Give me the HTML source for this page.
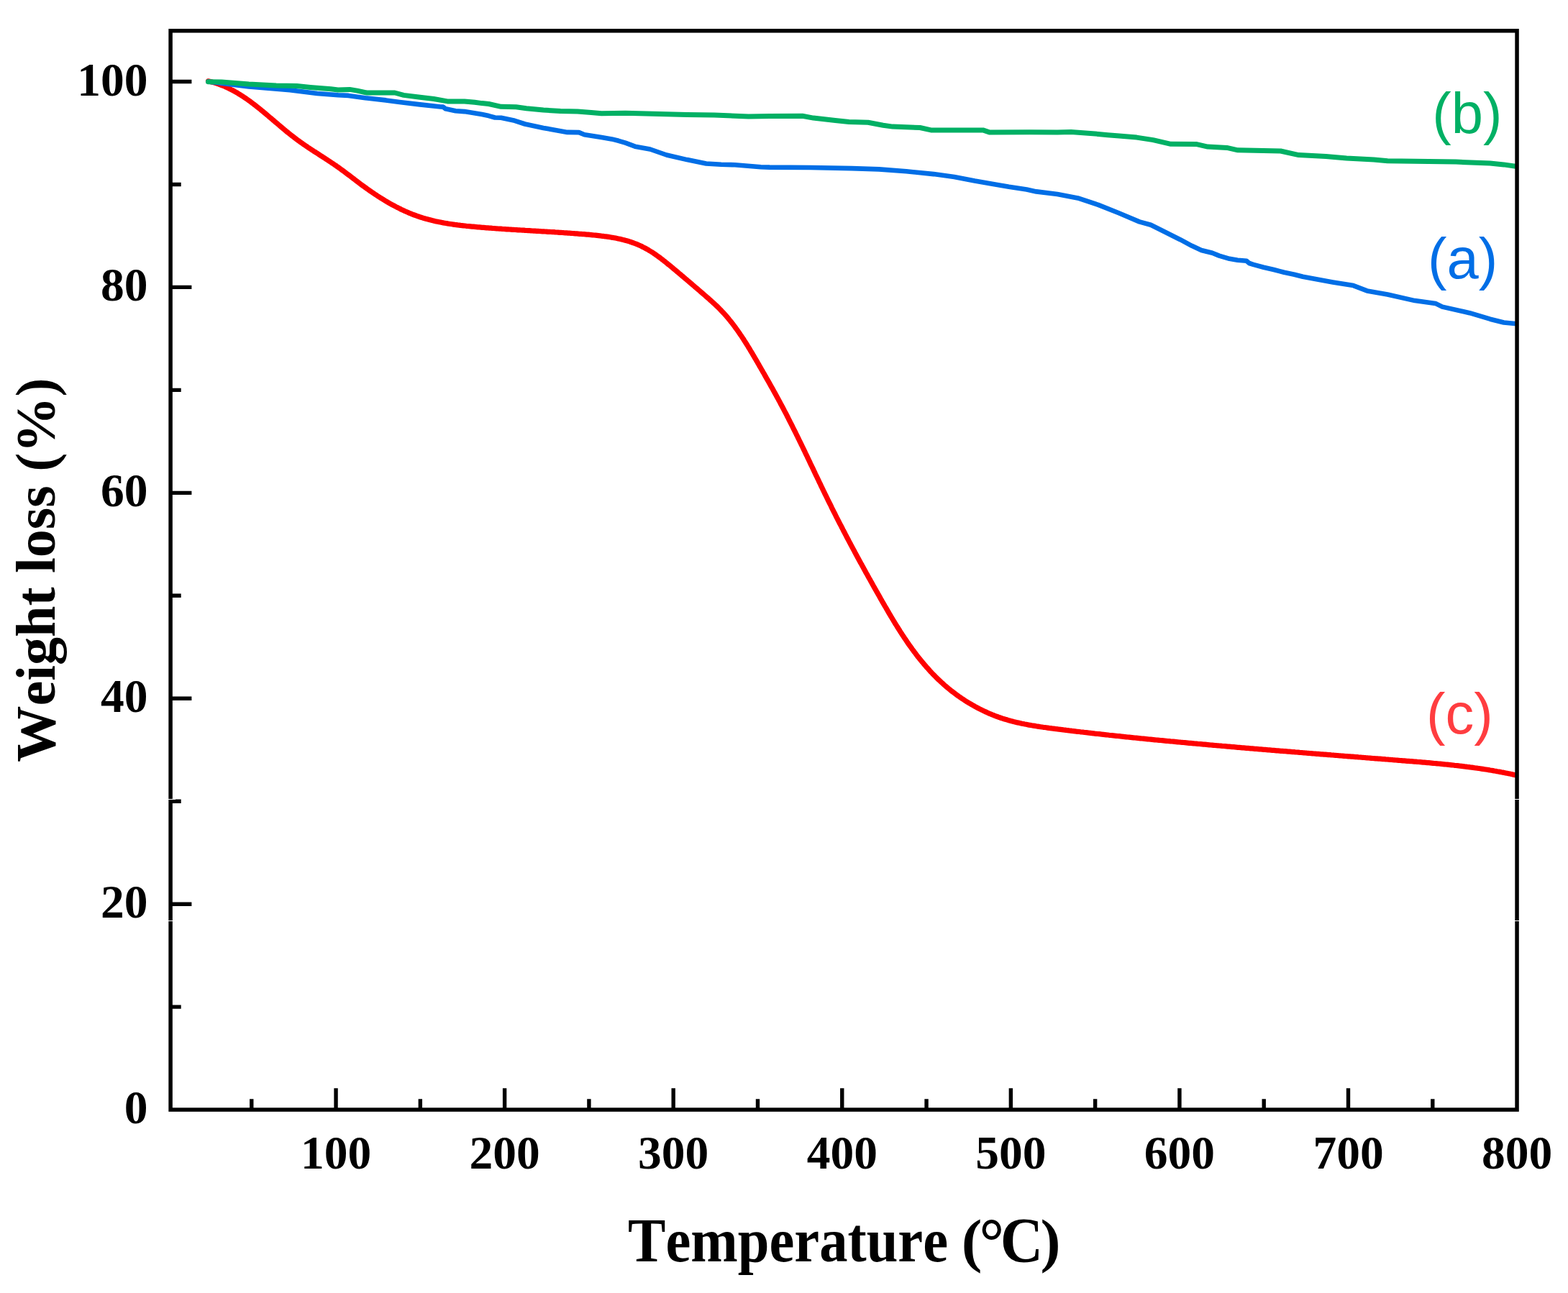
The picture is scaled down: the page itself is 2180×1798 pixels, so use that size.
<!DOCTYPE html>
<html><head><meta charset="utf-8"><title>TGA curves</title>
<style>html,body{margin:0;padding:0;background:#fff;width:2180px;height:1798px;overflow:hidden;}svg{display:block;}text{font-kerning:none;}
.tk{font-family:"Liberation Serif","Times New Roman",serif;font-weight:bold;font-size:65.5px;fill:#000;}
.ttl{font-family:"Liberation Serif","Times New Roman",serif;font-weight:bold;fill:#000;}
.lb{font-family:"Liberation Sans",Arial,sans-serif;font-size:79.5px;}
</style></head><body>
<svg width="2180" height="1798" viewBox="0 0 2180 1798">
<rect x="0" y="0" width="2180" height="1798" fill="#fff"/>
<defs><clipPath id="pc"><rect x="0" y="0" width="2109" height="1798"/></clipPath></defs>
<g fill="none" stroke-linejoin="round" stroke-linecap="round" clip-path="url(#pc)">
<path d="M289.5 112.8 L291.5 113.2 L293.5 113.7 L295.4 114.3 L297.4 114.8 L299.3 115.4 L301.3 116.0 L303.2 116.7 L305.1 117.4 L306.9 118.1 L308.8 118.8 L310.6 119.5 L312.5 120.3 L314.3 121.1 L316.1 122.0 L317.9 122.8 L319.7 123.7 L321.4 124.6 L323.2 125.5 L324.9 126.4 L326.6 127.4 L328.4 128.4 L330.1 129.3 L331.8 130.4 L333.4 131.4 L335.1 132.4 L336.8 133.5 L338.4 134.6 L340.1 135.7 L341.7 136.8 L343.3 137.9 L345.0 139.1 L346.6 140.2 L348.2 141.4 L349.8 142.6 L351.4 143.8 L352.9 145.0 L354.5 146.2 L356.1 147.4 L357.7 148.7 L359.2 149.9 L360.8 151.1 L362.3 152.4 L363.9 153.7 L365.4 154.9 L367.0 156.2 L368.5 157.5 L370.0 158.8 L371.6 160.1 L373.1 161.4 L374.6 162.7 L376.2 164.0 L377.7 165.3 L379.2 166.6 L380.8 167.9 L382.3 169.2 L383.8 170.5 L385.4 171.8 L386.9 173.1 L388.4 174.4 L390.0 175.7 L391.5 177.0 L393.0 178.3 L394.6 179.6 L396.1 180.9 L397.7 182.2 L399.2 183.5 L400.8 184.7 L402.4 186.0 L403.9 187.2 L405.5 188.5 L407.1 189.7 L408.7 190.9 L410.3 192.2 L411.9 193.4 L413.5 194.6 L415.1 195.7 L416.7 196.9 L418.3 198.1 L420.0 199.2 L421.6 200.4 L423.3 201.5 L424.9 202.6 L426.6 203.8 L428.2 204.9 L429.9 206.0 L431.5 207.1 L433.2 208.2 L434.9 209.3 L436.6 210.4 L438.2 211.4 L439.9 212.5 L441.6 213.6 L443.3 214.7 L444.9 215.8 L446.6 216.9 L448.3 217.9 L450.0 219.0 L451.6 220.1 L453.3 221.2 L455.0 222.3 L456.7 223.4 L458.3 224.5 L460.0 225.6 L461.6 226.7 L463.3 227.8 L464.9 228.9 L466.6 230.0 L468.2 231.2 L469.8 232.3 L471.5 233.5 L473.1 234.6 L474.7 235.8 L476.3 237.0 L477.9 238.2 L479.5 239.4 L481.1 240.6 L482.7 241.8 L484.3 243.0 L485.9 244.2 L487.5 245.4 L489.1 246.6 L490.7 247.8 L492.3 249.0 L493.8 250.2 L495.4 251.5 L497.0 252.7 L498.6 253.9 L500.2 255.1 L501.8 256.3 L503.4 257.5 L505.1 258.7 L506.7 259.8 L508.3 261.0 L509.9 262.2 L511.6 263.4 L513.2 264.5 L514.9 265.7 L516.5 266.8 L518.2 267.9 L519.8 269.1 L521.5 270.2 L523.2 271.3 L524.8 272.4 L526.5 273.5 L528.2 274.6 L529.9 275.6 L531.6 276.7 L533.3 277.7 L535.0 278.8 L536.8 279.8 L538.5 280.8 L540.2 281.8 L541.9 282.8 L543.7 283.8 L545.4 284.8 L547.2 285.7 L549.0 286.7 L550.7 287.6 L552.5 288.5 L554.3 289.4 L556.1 290.3 L557.8 291.2 L559.6 292.0 L561.4 292.9 L563.3 293.7 L565.1 294.5 L566.9 295.3 L568.7 296.1 L570.6 296.8 L572.4 297.6 L574.2 298.3 L576.1 299.0 L578.0 299.7 L579.8 300.4 L581.7 301.0 L583.6 301.7 L585.5 302.3 L587.4 302.9 L589.3 303.5 L591.2 304.0 L593.1 304.6 L595.0 305.1 L596.9 305.6 L598.9 306.1 L600.8 306.6 L602.7 307.0 L604.7 307.5 L606.6 307.9 L608.6 308.3 L610.6 308.7 L612.5 309.1 L614.5 309.5 L616.5 309.9 L618.4 310.2 L620.4 310.5 L622.4 310.9 L624.4 311.2 L626.4 311.5 L628.4 311.8 L630.3 312.1 L632.3 312.4 L634.3 312.6 L636.3 312.9 L638.3 313.1 L640.3 313.4 L642.3 313.6 L644.3 313.8 L646.3 314.0 L648.3 314.3 L650.4 314.5 L652.4 314.7 L654.4 314.9 L656.4 315.1 L658.4 315.2 L660.4 315.4 L662.4 315.6 L664.4 315.8 L666.4 315.9 L668.4 316.1 L670.4 316.3 L672.4 316.4 L674.4 316.6 L676.4 316.8 L678.4 316.9 L680.4 317.1 L682.4 317.2 L684.4 317.4 L686.4 317.5 L688.4 317.7 L690.4 317.8 L692.4 318.0 L694.3 318.1 L696.3 318.2 L698.3 318.4 L700.3 318.5 L702.3 318.6 L704.3 318.8 L706.3 318.9 L708.3 319.0 L710.3 319.1 L712.3 319.3 L714.2 319.4 L716.2 319.5 L718.2 319.6 L720.2 319.8 L722.2 319.9 L724.2 320.0 L726.2 320.1 L728.2 320.2 L730.1 320.4 L732.1 320.5 L734.1 320.6 L736.1 320.7 L738.1 320.8 L740.1 321.0 L742.1 321.1 L744.0 321.2 L746.0 321.3 L748.0 321.4 L750.0 321.5 L752.0 321.7 L754.0 321.8 L756.0 321.9 L758.0 322.0 L759.9 322.1 L761.9 322.3 L763.9 322.4 L765.9 322.5 L767.9 322.6 L769.9 322.7 L771.9 322.9 L773.9 323.0 L775.9 323.1 L777.9 323.3 L779.9 323.4 L781.9 323.5 L783.9 323.7 L785.9 323.8 L787.8 323.9 L789.8 324.1 L791.8 324.2 L793.8 324.3 L795.8 324.5 L797.8 324.6 L799.9 324.8 L801.9 324.9 L803.9 325.1 L805.9 325.3 L807.9 325.4 L809.9 325.6 L811.9 325.7 L813.9 325.9 L815.9 326.1 L817.9 326.2 L819.9 326.4 L821.9 326.6 L824.0 326.8 L826.0 327.0 L828.0 327.2 L830.0 327.4 L832.0 327.6 L834.0 327.8 L836.0 328.1 L838.0 328.3 L840.0 328.6 L842.0 328.8 L844.0 329.1 L846.0 329.4 L848.0 329.7 L849.9 330.1 L851.9 330.4 L853.9 330.7 L855.8 331.1 L857.8 331.5 L859.7 331.9 L861.7 332.3 L863.6 332.8 L865.5 333.3 L867.5 333.7 L869.4 334.3 L871.3 334.8 L873.2 335.3 L875.1 335.9 L876.9 336.5 L878.8 337.2 L880.7 337.8 L882.5 338.5 L884.3 339.2 L886.2 339.9 L888.0 340.7 L889.8 341.5 L891.6 342.3 L893.3 343.2 L895.1 344.1 L896.8 345.0 L898.6 346.0 L900.3 346.9 L902.0 347.9 L903.7 349.0 L905.4 350.0 L907.1 351.1 L908.8 352.2 L910.4 353.3 L912.1 354.5 L913.7 355.6 L915.3 356.8 L917.0 358.0 L918.6 359.2 L920.2 360.5 L921.8 361.7 L923.4 363.0 L925.0 364.2 L926.6 365.5 L928.1 366.8 L929.7 368.0 L931.3 369.3 L932.9 370.6 L934.4 371.9 L936.0 373.2 L937.5 374.5 L939.1 375.8 L940.6 377.1 L942.2 378.4 L943.7 379.7 L945.3 381.0 L946.8 382.3 L948.3 383.6 L949.9 384.9 L951.4 386.2 L952.9 387.5 L954.5 388.8 L956.0 390.1 L957.5 391.4 L959.1 392.7 L960.6 394.0 L962.1 395.3 L963.6 396.6 L965.1 397.9 L966.6 399.2 L968.2 400.5 L969.7 401.8 L971.2 403.1 L972.7 404.4 L974.2 405.7 L975.7 407.0 L977.2 408.3 L978.7 409.6 L980.2 410.9 L981.7 412.2 L983.2 413.5 L984.7 414.8 L986.2 416.1 L987.7 417.5 L989.2 418.8 L990.6 420.1 L992.1 421.5 L993.6 422.8 L995.0 424.2 L996.4 425.5 L997.9 426.9 L999.3 428.3 L1000.7 429.7 L1002.1 431.1 L1003.4 432.6 L1004.8 434.0 L1006.2 435.5 L1007.5 436.9 L1008.8 438.4 L1010.1 439.9 L1011.4 441.4 L1012.7 442.9 L1013.9 444.5 L1015.2 446.0 L1016.4 447.6 L1017.6 449.1 L1018.9 450.7 L1020.1 452.3 L1021.3 453.9 L1022.4 455.5 L1023.6 457.1 L1024.8 458.7 L1025.9 460.3 L1027.1 462.0 L1028.2 463.6 L1029.3 465.3 L1030.5 466.9 L1031.6 468.6 L1032.7 470.3 L1033.8 471.9 L1034.8 473.6 L1035.9 475.3 L1037.0 477.0 L1038.1 478.7 L1039.1 480.4 L1040.2 482.1 L1041.2 483.8 L1042.3 485.5 L1043.3 487.3 L1044.3 489.0 L1045.4 490.7 L1046.4 492.4 L1047.4 494.2 L1048.4 495.9 L1049.4 497.6 L1050.5 499.4 L1051.5 501.1 L1052.5 502.8 L1053.5 504.6 L1054.5 506.3 L1055.5 508.1 L1056.5 509.8 L1057.5 511.5 L1058.5 513.3 L1059.5 515.0 L1060.5 516.8 L1061.5 518.5 L1062.5 520.2 L1063.5 522.0 L1064.4 523.7 L1065.4 525.4 L1066.4 527.2 L1067.4 528.9 L1068.4 530.6 L1069.4 532.4 L1070.4 534.1 L1071.3 535.9 L1072.3 537.6 L1073.3 539.3 L1074.3 541.1 L1075.2 542.8 L1076.2 544.6 L1077.2 546.3 L1078.1 548.0 L1079.1 549.8 L1080.0 551.5 L1081.0 553.3 L1082.0 555.0 L1082.9 556.8 L1083.9 558.5 L1084.8 560.3 L1085.7 562.1 L1086.7 563.8 L1087.6 565.6 L1088.6 567.3 L1089.5 569.1 L1090.4 570.9 L1091.3 572.6 L1092.3 574.4 L1093.2 576.2 L1094.1 578.0 L1095.0 579.7 L1095.9 581.5 L1096.8 583.3 L1097.7 585.1 L1098.6 586.9 L1099.5 588.6 L1100.4 590.4 L1101.3 592.2 L1102.2 594.0 L1103.1 595.8 L1104.0 597.6 L1104.9 599.4 L1105.8 601.2 L1106.7 603.0 L1107.6 604.8 L1108.5 606.6 L1109.3 608.4 L1110.2 610.2 L1111.1 612.0 L1112.0 613.8 L1112.9 615.6 L1113.7 617.4 L1114.6 619.2 L1115.5 621.0 L1116.4 622.8 L1117.2 624.6 L1118.1 626.4 L1119.0 628.2 L1119.8 630.0 L1120.7 631.8 L1121.6 633.6 L1122.4 635.4 L1123.3 637.3 L1124.2 639.1 L1125.0 640.9 L1125.9 642.7 L1126.7 644.5 L1127.6 646.3 L1128.5 648.1 L1129.3 649.9 L1130.2 651.7 L1131.1 653.6 L1131.9 655.4 L1132.8 657.2 L1133.6 659.0 L1134.5 660.8 L1135.4 662.6 L1136.2 664.4 L1137.1 666.2 L1138.0 668.0 L1138.8 669.8 L1139.7 671.6 L1140.6 673.4 L1141.4 675.3 L1142.3 677.1 L1143.2 678.9 L1144.0 680.7 L1144.9 682.5 L1145.8 684.3 L1146.6 686.1 L1147.5 687.9 L1148.4 689.7 L1149.3 691.5 L1150.2 693.3 L1151.0 695.1 L1151.9 696.8 L1152.8 698.6 L1153.7 700.4 L1154.6 702.2 L1155.5 704.0 L1156.3 705.8 L1157.2 707.6 L1158.1 709.4 L1159.0 711.2 L1159.9 712.9 L1160.8 714.7 L1161.7 716.5 L1162.6 718.3 L1163.5 720.1 L1164.4 721.8 L1165.3 723.6 L1166.2 725.4 L1167.1 727.2 L1168.0 728.9 L1169.0 730.7 L1169.9 732.5 L1170.8 734.2 L1171.7 736.0 L1172.6 737.8 L1173.5 739.5 L1174.5 741.3 L1175.4 743.1 L1176.3 744.8 L1177.2 746.6 L1178.1 748.4 L1179.1 750.1 L1180.0 751.9 L1180.9 753.6 L1181.9 755.4 L1182.8 757.2 L1183.7 758.9 L1184.7 760.7 L1185.6 762.4 L1186.6 764.2 L1187.5 765.9 L1188.4 767.7 L1189.4 769.5 L1190.3 771.2 L1191.3 773.0 L1192.2 774.7 L1193.2 776.5 L1194.1 778.2 L1195.1 780.0 L1196.0 781.7 L1197.0 783.5 L1198.0 785.2 L1198.9 787.0 L1199.9 788.7 L1200.8 790.5 L1201.8 792.2 L1202.8 794.0 L1203.7 795.7 L1204.7 797.5 L1205.7 799.2 L1206.6 801.0 L1207.6 802.7 L1208.6 804.5 L1209.6 806.2 L1210.5 808.0 L1211.5 809.7 L1212.5 811.4 L1213.5 813.2 L1214.4 814.9 L1215.4 816.7 L1216.4 818.4 L1217.4 820.2 L1218.4 821.9 L1219.4 823.7 L1220.4 825.4 L1221.4 827.2 L1222.4 828.9 L1223.3 830.7 L1224.3 832.4 L1225.3 834.2 L1226.3 835.9 L1227.3 837.7 L1228.3 839.4 L1229.3 841.1 L1230.3 842.9 L1231.4 844.6 L1232.4 846.4 L1233.4 848.1 L1234.4 849.9 L1235.4 851.6 L1236.4 853.3 L1237.5 855.1 L1238.5 856.8 L1239.5 858.5 L1240.6 860.3 L1241.6 862.0 L1242.6 863.7 L1243.7 865.4 L1244.7 867.2 L1245.8 868.9 L1246.9 870.6 L1247.9 872.3 L1249.0 874.0 L1250.1 875.7 L1251.1 877.4 L1252.2 879.1 L1253.3 880.8 L1254.4 882.5 L1255.5 884.1 L1256.6 885.8 L1257.7 887.5 L1258.9 889.2 L1260.0 890.8 L1261.1 892.5 L1262.2 894.1 L1263.4 895.8 L1264.5 897.4 L1265.7 899.0 L1266.9 900.7 L1268.0 902.3 L1269.2 903.9 L1270.4 905.5 L1271.6 907.1 L1272.8 908.7 L1274.0 910.3 L1275.2 911.9 L1276.4 913.4 L1277.7 915.0 L1278.9 916.6 L1280.2 918.1 L1281.4 919.7 L1282.7 921.2 L1284.0 922.7 L1285.2 924.2 L1286.5 925.7 L1287.8 927.2 L1289.2 928.7 L1290.5 930.2 L1291.8 931.7 L1293.1 933.2 L1294.5 934.6 L1295.9 936.1 L1297.2 937.5 L1298.6 938.9 L1300.0 940.3 L1301.4 941.7 L1302.8 943.1 L1304.2 944.5 L1305.7 945.9 L1307.1 947.2 L1308.6 948.6 L1310.1 949.9 L1311.5 951.3 L1313.0 952.6 L1314.5 953.9 L1316.1 955.2 L1317.6 956.5 L1319.1 957.7 L1320.7 959.0 L1322.2 960.3 L1323.8 961.5 L1325.4 962.7 L1327.0 963.9 L1328.6 965.1 L1330.2 966.3 L1331.8 967.5 L1333.4 968.6 L1335.1 969.8 L1336.7 970.9 L1338.4 972.0 L1340.1 973.1 L1341.7 974.2 L1343.4 975.3 L1345.1 976.3 L1346.8 977.4 L1348.6 978.4 L1350.3 979.4 L1352.0 980.4 L1353.8 981.4 L1355.5 982.4 L1357.3 983.4 L1359.0 984.3 L1360.8 985.2 L1362.6 986.1 L1364.4 987.0 L1366.2 987.9 L1368.0 988.8 L1369.8 989.6 L1371.6 990.4 L1373.4 991.3 L1375.2 992.1 L1377.1 992.8 L1378.9 993.6 L1380.8 994.3 L1382.6 995.1 L1384.5 995.8 L1386.4 996.5 L1388.2 997.2 L1390.1 997.8 L1392.0 998.5 L1393.9 999.1 L1395.8 999.7 L1397.7 1000.3 L1399.6 1000.8 L1401.5 1001.4 L1403.4 1001.9 L1405.3 1002.5 L1407.3 1003.0 L1409.2 1003.5 L1411.1 1003.9 L1413.1 1004.4 L1415.0 1004.9 L1417.0 1005.3 L1418.9 1005.7 L1420.9 1006.2 L1422.8 1006.6 L1424.8 1007.0 L1426.8 1007.3 L1428.7 1007.7 L1430.7 1008.1 L1432.7 1008.4 L1434.6 1008.8 L1436.6 1009.1 L1438.6 1009.4 L1440.6 1009.8 L1442.6 1010.1 L1444.5 1010.4 L1446.5 1010.7 L1448.5 1011.0 L1450.5 1011.3 L1452.5 1011.5 L1454.5 1011.8 L1456.5 1012.1 L1458.5 1012.4 L1460.5 1012.6 L1462.5 1012.9 L1464.4 1013.1 L1466.4 1013.4 L1468.4 1013.7 L1470.4 1013.9 L1472.4 1014.2 L1474.4 1014.4 L1476.4 1014.6 L1478.4 1014.9 L1480.4 1015.1 L1482.4 1015.4 L1484.4 1015.6 L1486.4 1015.9 L1488.4 1016.1 L1490.4 1016.4 L1492.4 1016.6 L1494.3 1016.8 L1496.3 1017.1 L1498.3 1017.3 L1500.3 1017.5 L1502.3 1017.8 L1504.3 1018.0 L1506.3 1018.2 L1508.3 1018.5 L1510.3 1018.7 L1512.3 1018.9 L1514.3 1019.2 L1516.2 1019.4 L1518.2 1019.6 L1520.2 1019.8 L1522.2 1020.1 L1524.2 1020.3 L1526.2 1020.5 L1528.2 1020.7 L1530.2 1020.9 L1532.1 1021.2 L1534.1 1021.4 L1536.1 1021.6 L1538.1 1021.8 L1540.1 1022.0 L1542.1 1022.3 L1544.1 1022.5 L1546.1 1022.7 L1548.0 1022.9 L1550.0 1023.1 L1552.0 1023.3 L1554.0 1023.5 L1556.0 1023.7 L1558.0 1023.9 L1560.0 1024.2 L1562.0 1024.4 L1563.9 1024.6 L1565.9 1024.8 L1567.9 1025.0 L1569.9 1025.2 L1571.9 1025.4 L1573.9 1025.6 L1575.9 1025.8 L1577.9 1026.0 L1579.8 1026.2 L1581.8 1026.4 L1583.8 1026.6 L1585.8 1026.8 L1587.8 1027.0 L1589.8 1027.2 L1591.8 1027.4 L1593.7 1027.6 L1595.7 1027.8 L1597.7 1028.0 L1599.7 1028.2 L1601.7 1028.4 L1603.7 1028.6 L1605.7 1028.8 L1607.7 1029.0 L1609.6 1029.1 L1611.6 1029.3 L1613.6 1029.5 L1615.6 1029.7 L1617.6 1029.9 L1619.6 1030.1 L1621.6 1030.3 L1623.6 1030.5 L1625.5 1030.7 L1627.5 1030.9 L1629.5 1031.0 L1631.5 1031.2 L1633.5 1031.4 L1635.5 1031.6 L1637.5 1031.8 L1639.5 1032.0 L1641.5 1032.2 L1643.4 1032.3 L1645.4 1032.5 L1647.4 1032.7 L1649.4 1032.9 L1651.4 1033.1 L1653.4 1033.3 L1655.4 1033.4 L1657.4 1033.6 L1659.4 1033.8 L1661.3 1034.0 L1663.3 1034.2 L1665.3 1034.4 L1667.3 1034.5 L1669.3 1034.7 L1671.3 1034.9 L1673.3 1035.1 L1675.3 1035.2 L1677.3 1035.4 L1679.3 1035.6 L1681.3 1035.8 L1683.2 1036.0 L1685.2 1036.1 L1687.2 1036.3 L1689.2 1036.5 L1691.2 1036.7 L1693.2 1036.8 L1695.2 1037.0 L1697.2 1037.2 L1699.2 1037.4 L1701.2 1037.5 L1703.2 1037.7 L1705.2 1037.9 L1707.2 1038.1 L1709.1 1038.2 L1711.1 1038.4 L1713.1 1038.6 L1715.1 1038.7 L1717.1 1038.9 L1719.1 1039.1 L1721.1 1039.3 L1723.1 1039.4 L1725.1 1039.6 L1727.1 1039.8 L1729.1 1039.9 L1731.1 1040.1 L1733.1 1040.3 L1735.1 1040.4 L1737.1 1040.6 L1739.0 1040.8 L1741.0 1040.9 L1743.0 1041.1 L1745.0 1041.3 L1747.0 1041.4 L1749.0 1041.6 L1751.0 1041.8 L1753.0 1041.9 L1755.0 1042.1 L1757.0 1042.3 L1759.0 1042.4 L1761.0 1042.6 L1763.0 1042.8 L1765.0 1042.9 L1767.0 1043.1 L1769.0 1043.3 L1771.0 1043.4 L1772.9 1043.6 L1774.9 1043.8 L1776.9 1043.9 L1778.9 1044.1 L1780.9 1044.3 L1782.9 1044.4 L1784.9 1044.6 L1786.9 1044.7 L1788.9 1044.9 L1790.9 1045.1 L1792.9 1045.2 L1794.9 1045.4 L1796.9 1045.6 L1798.9 1045.7 L1800.9 1045.9 L1802.9 1046.0 L1804.9 1046.2 L1806.9 1046.4 L1808.9 1046.5 L1810.9 1046.7 L1812.8 1046.8 L1814.8 1047.0 L1816.8 1047.2 L1818.8 1047.3 L1820.8 1047.5 L1822.8 1047.6 L1824.8 1047.8 L1826.8 1048.0 L1828.8 1048.1 L1830.8 1048.3 L1832.8 1048.4 L1834.8 1048.6 L1836.8 1048.8 L1838.8 1048.9 L1840.8 1049.1 L1842.8 1049.2 L1844.8 1049.4 L1846.8 1049.6 L1848.8 1049.7 L1850.8 1049.9 L1852.8 1050.0 L1854.7 1050.2 L1856.7 1050.3 L1858.7 1050.5 L1860.7 1050.7 L1862.7 1050.8 L1864.7 1051.0 L1866.7 1051.1 L1868.7 1051.3 L1870.7 1051.5 L1872.7 1051.6 L1874.7 1051.8 L1876.7 1051.9 L1878.7 1052.1 L1880.7 1052.2 L1882.7 1052.4 L1884.7 1052.6 L1886.7 1052.7 L1888.7 1052.9 L1890.7 1053.0 L1892.7 1053.2 L1894.7 1053.3 L1896.7 1053.5 L1898.6 1053.7 L1900.6 1053.8 L1902.6 1054.0 L1904.6 1054.1 L1906.6 1054.3 L1908.6 1054.5 L1910.6 1054.6 L1912.6 1054.8 L1914.6 1054.9 L1916.6 1055.1 L1918.6 1055.2 L1920.6 1055.4 L1922.6 1055.6 L1924.6 1055.7 L1926.6 1055.9 L1928.6 1056.0 L1930.6 1056.2 L1932.6 1056.3 L1934.6 1056.5 L1936.5 1056.7 L1938.5 1056.8 L1940.5 1057.0 L1942.5 1057.1 L1944.5 1057.3 L1946.5 1057.5 L1948.5 1057.6 L1950.5 1057.8 L1952.5 1057.9 L1954.5 1058.1 L1956.5 1058.3 L1958.5 1058.4 L1960.5 1058.6 L1962.5 1058.7 L1964.5 1058.9 L1966.5 1059.1 L1968.4 1059.2 L1970.4 1059.4 L1972.4 1059.5 L1974.4 1059.7 L1976.4 1059.9 L1978.4 1060.1 L1980.4 1060.2 L1982.4 1060.4 L1984.4 1060.6 L1986.4 1060.7 L1988.4 1060.9 L1990.4 1061.1 L1992.4 1061.3 L1994.3 1061.5 L1996.3 1061.6 L1998.3 1061.8 L2000.3 1062.0 L2002.3 1062.2 L2004.3 1062.4 L2006.3 1062.6 L2008.3 1062.8 L2010.3 1063.0 L2012.2 1063.2 L2014.2 1063.4 L2016.2 1063.6 L2018.2 1063.8 L2020.2 1064.0 L2022.2 1064.3 L2024.2 1064.5 L2026.1 1064.7 L2028.1 1064.9 L2030.1 1065.2 L2032.1 1065.4 L2034.1 1065.6 L2036.1 1065.9 L2038.0 1066.1 L2040.0 1066.4 L2042.0 1066.6 L2044.0 1066.9 L2046.0 1067.1 L2048.0 1067.4 L2049.9 1067.7 L2051.9 1068.0 L2053.9 1068.2 L2055.9 1068.5 L2057.8 1068.8 L2059.8 1069.1 L2061.8 1069.4 L2063.8 1069.7 L2065.8 1070.0 L2067.7 1070.3 L2069.7 1070.6 L2071.7 1071.0 L2073.6 1071.3 L2075.6 1071.6 L2077.6 1072.0 L2079.6 1072.3 L2081.5 1072.7 L2083.5 1073.0 L2085.5 1073.4 L2087.4 1073.8 L2089.4 1074.1 L2091.4 1074.5 L2093.3 1074.9 L2095.3 1075.3 L2097.3 1075.7 L2099.2 1076.1 L2101.2 1076.5 L2103.2 1076.9 L2105.1 1077.4 L2107.1 1077.8 L2109.0 1078.2" stroke="#FF0000" stroke-width="7.2"/>
<path d="M289.5 113.5 L346.0 120.4 L403.0 125.2 L441.0 130.0 L470.0 132.3 L484.3 132.9 L508.0 136.3 L536.5 139.4 L555.5 141.9 L584.0 145.4 L612.5 148.5 L616.0 148.6 L619.5 151.3 L633.4 154.2 L645.8 155.1 L670.0 159.1 L679.5 161.1 L688.1 163.5 L696.6 163.7 L715.6 167.8 L729.9 172.5 L755.5 177.9 L788.8 183.9 L804.9 184.1 L812.5 187.3 L836.3 191.1 L850.5 193.4 L860.0 195.8 L869.5 198.7 L882.9 203.7 L903.8 207.5 L926.7 215.5 L955.2 222.1 L981.8 227.5 L1002.7 228.8 L1021.7 229.2 L1057.8 232.2 L1070.0 232.6 L1127.0 233.0 L1184.1 234.1 L1222.1 235.4 L1260.1 238.3 L1298.1 242.1 L1326.7 245.9 L1355.2 251.6 L1378.0 255.4 L1402.7 259.8 L1427.4 263.6 L1440.7 266.4 L1470.0 270.0 L1498.5 275.4 L1527.0 284.9 L1555.5 296.3 L1584.1 308.4 L1600.0 312.8 L1619.0 322.3 L1640.9 333.2 L1657.0 341.8 L1670.3 348.0 L1685.5 351.8 L1695.0 355.6 L1709.3 359.8 L1720.7 361.7 L1733.0 362.7 L1736.8 366.0 L1742.5 367.9 L1756.8 371.7 L1771.0 375.0 L1785.3 378.8 L1799.5 381.7 L1811.3 384.8 L1853.1 392.4 L1881.6 397.1 L1900.6 404.4 L1929.1 409.5 L1967.1 418.1 L1995.7 421.9 L2005.2 426.6 L2043.2 435.2 L2071.7 443.7 L2090.7 448.5 L2109.0 450.3" stroke="#006EE6" stroke-width="6.6"/>
<path d="M289.5 113.8 L308.0 114.0 L346.0 117.0 L384.0 118.9 L412.6 119.6 L431.6 121.4 L460.1 123.8 L470.0 124.9 L486.2 124.4 L496.6 126.1 L509.9 129.0 L548.9 129.0 L561.2 132.4 L584.0 135.2 L603.0 137.5 L622.0 140.9 L645.8 140.9 L660.0 142.3 L670.0 143.6 L679.5 144.5 L696.6 148.3 L717.5 148.8 L731.8 150.7 L755.5 153.1 L779.3 154.5 L803.0 155.0 L822.0 156.4 L836.3 157.8 L869.5 157.3 L879.1 157.5 L917.1 158.4 L955.2 159.4 L993.2 160.0 L1040.7 161.9 L1070.0 161.5 L1115.6 161.3 L1130.8 164.1 L1161.3 167.6 L1180.3 169.5 L1206.9 170.2 L1227.8 174.2 L1241.1 176.1 L1279.1 177.5 L1294.3 180.9 L1366.6 180.9 L1376.1 184.1 L1431.2 183.7 L1470.0 184.1 L1489.0 183.5 L1527.0 186.4 L1540.0 187.7 L1556.0 189.0 L1580.3 191.1 L1603.1 194.6 L1627.8 200.3 L1663.9 200.6 L1679.1 204.1 L1705.7 205.4 L1721.0 208.8 L1780.5 210.0 L1805.6 215.6 L1843.6 217.5 L1872.1 220.0 L1910.1 221.9 L1929.1 223.8 L1986.2 224.5 L2024.2 225.1 L2071.7 227.0 L2090.7 228.9 L2109.0 231.6" stroke="#00B064" stroke-width="7.0"/>
</g>
<g stroke="#000" fill="none" stroke-linecap="butt">
<rect x="237.10" y="42.80" width="1871.95" height="1500.30" stroke-width="5.5" stroke-linejoin="miter"/>
<path d="M237.10 1400.14H251.70 M237.10 1257.18H266.40 M237.10 1114.22H251.70 M237.10 971.26H266.40 M237.10 828.30H251.70 M237.10 685.34H266.40 M237.10 542.38H251.70 M237.10 399.42H266.40 M237.10 256.46H251.70 M237.10 113.50H266.40 M349.76 1543.10V1528.30 M467.05 1543.10V1513.30 M584.34 1543.10V1528.30 M701.62 1543.10V1513.30 M818.91 1543.10V1528.30 M936.20 1543.10V1513.30 M1053.49 1543.10V1528.30 M1170.77 1543.10V1513.30 M1288.06 1543.10V1528.30 M1405.35 1543.10V1513.30 M1522.64 1543.10V1528.30 M1639.92 1543.10V1513.30 M1757.21 1543.10V1528.30 M1874.50 1543.10V1513.30 M1991.79 1543.10V1528.30" stroke-width="5.4"/>
</g>
<g fill="#fff"><rect x="230" y="1111" width="14" height="1"/><rect x="2102" y="1111" width="14" height="1"/><rect x="230" y="1280" width="14" height="1"/><rect x="2102" y="1280" width="14" height="1"/></g>
<g class="tk" text-anchor="end">
<text x="205.4" y="1562.1">0</text>
<text x="205.4" y="1276.2">20</text>
<text x="205.4" y="990.3">40</text>
<text x="205.4" y="704.3">60</text>
<text x="205.4" y="418.4">80</text>
<text x="205.4" y="132.5">100</text>
</g>
<g class="tk" text-anchor="middle">
<text x="467.05" y="1625">100</text>
<text x="701.62" y="1625">200</text>
<text x="936.20" y="1625">300</text>
<text x="1170.77" y="1625">400</text>
<text x="1405.35" y="1625">500</text>
<text x="1639.92" y="1625">600</text>
<text x="1874.50" y="1625">700</text>
<text x="2109.07" y="1625">800</text>
</g>
<text class="ttl" text-anchor="middle" font-size="78.2" transform="translate(75.6 792.6) rotate(-90)">Weight loss (%)</text>
<g class="ttl">
<text font-size="87" transform="translate(873.1 1753.8) scale(0.903 1)">Temperature</text>
<text font-size="82.8" transform="translate(1336.7 1753) scale(1.039 1)">(</text>
<text font-size="94" transform="translate(1361.5 1758.1) scale(0.919 1)">°</text>
<text font-size="88.1" transform="translate(1390.8 1753.9) scale(0.933 1)">C</text>
<text font-size="82.8" transform="translate(1446.5 1753) scale(1.016 1)">)</text>
</g>
<text class="lb" x="1985.1" y="387" fill="#006EE6">(a)</text>
<text class="lb" x="1991.2" y="185.1" fill="#00B064">(b)</text>
<text class="lb" x="1983.1" y="1019.7" fill="#FF3D40">(c)</text>
</svg></body></html>
